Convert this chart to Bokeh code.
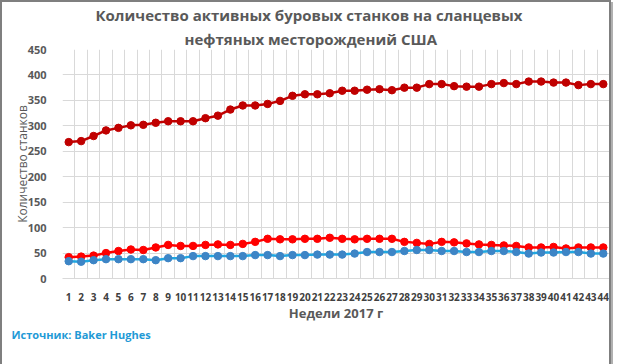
from bokeh.plotting import figure
from bokeh.models import (FixedTicker, Range1d, Legend, LegendItem, Grid, Title)
from bokeh.embed import file_html
from bokeh.resources import INLINE

weeks = list(range(1, 45))
week_labels = [str(w) for w in weeks]
permian = [268, 270, 280, 291, 296, 301, 302, 306, 309, 309, 309, 315, 320, 332, 340, 340,
           343, 349, 359, 362, 362, 364, 369, 369, 371, 372, 370, 375, 375, 382, 382, 378,
           377, 377, 382, 384, 382, 387, 387, 385, 385, 380, 382, 382]
eagle_ford = [42, 43, 45, 50, 54, 57, 56, 61, 66, 64, 64, 66, 67, 66, 68, 72, 78, 77, 77, 78,
              78, 80, 78, 77, 78, 78, 78, 72, 70, 68, 72, 71, 69, 67, 66, 65, 64, 61, 61, 62,
              59, 61, 61, 61]
bakken = [34, 33, 36, 38, 38, 38, 38, 36, 40, 40, 44, 44, 44, 44, 44, 46, 46, 44, 46, 46, 47,
          47, 47, 49, 52, 52, 52, 54, 56, 56, 54, 54, 52, 52, 54, 54, 52, 49, 51, 51, 52, 52,
          49, 49]
y_ticks = [0, 50, 100, 150, 200, 250, 300, 350, 400, 450]
title_lines = ["Количество активных буровых станков на сланцевых",
               "нефтяных месторождений США"]
source_text = "Источник: Baker Hughes"

FONT = "Open Sans"
GREY = "#595959"

p = figure(output_backend="svg", toolbar_location=None,
           x_range=Range1d(0.5, 44.5), y_range=Range1d(0, 450),
           frame_width=547, frame_height=229,
           min_border_left=60, min_border_right=0, min_border_top=45, min_border_bottom=0)
p.styles = {"border": "2px solid #7f7f7f", "box-shadow": "2px 2px 0 #b0b0b0"}
p.outline_line_color = None
p.background_fill_color = "white"
p.border_fill_color = "white"

# title: two lines, centred on the whole chart (added titles sit closer to the frame)
p.title = Title(text=title_lines[0], align="left", offset=33, standoff=1,
                text_font=FONT, text_font_size="15px", text_font_style="bold", text_color=GREY)
p.add_layout(Title(text=title_lines[1], align="left", offset=122, standoff=2,
                   text_font=FONT, text_font_size="15px", text_font_style="bold",
                   text_color=GREY), "above")

# grids
p.xgrid.visible = False
p.ygrid.ticker = FixedTicker(ticks=y_ticks)
p.ygrid.grid_line_color = "#d9d9d9"
vgrid = Grid(dimension=0, ticker=FixedTicker(ticks=[w + 0.5 for w in range(0, 45)]),
             grid_line_color="#d9d9d9")
p.add_layout(vgrid)

# axes
p.xaxis.ticker = FixedTicker(ticks=weeks)
p.xaxis.major_label_overrides = {w: l for w, l in zip(weeks, week_labels)}
p.xaxis.major_label_text_font = FONT
p.xaxis.major_label_text_font_size = "10px"
p.xaxis.major_label_text_font_style = "bold"
p.xaxis.major_label_text_color = "#404040"
p.xaxis.major_tick_line_color = None
p.xaxis.minor_tick_line_color = None
p.xaxis.axis_line_color = "#d9d9d9"
p.xaxis.major_label_standoff = 8
p.xaxis.axis_label = "Недели 2017 г"
p.xaxis.axis_label_text_font = FONT
p.xaxis.axis_label_text_font_size = "13px"
p.xaxis.axis_label_text_font_style = "bold"
p.xaxis.axis_label_text_color = GREY
p.xaxis.axis_label_standoff = 0

p.yaxis.ticker = FixedTicker(ticks=y_ticks)
p.yaxis.major_label_text_font = FONT
p.yaxis.major_label_text_font_size = "11px"
p.yaxis.major_label_text_font_style = "bold"
p.yaxis.major_label_text_color = GREY
p.yaxis.major_tick_line_color = None
p.yaxis.minor_tick_line_color = None
p.yaxis.axis_line_color = None
p.yaxis.major_label_standoff = 10
p.yaxis.axis_label = "Количество станков"
p.yaxis.axis_label_text_font = FONT
p.yaxis.axis_label_text_font_size = "12px"
p.yaxis.axis_label_text_font_style = "normal"
p.yaxis.axis_label_text_color = GREY
p.yaxis.axis_label_standoff = -6

series = [
    ("Permian", permian, "#c00000", "#c00000"),
    ("Eagle Ford", eagle_ford, "#ff0000", "#ff0000"),
    ("Bakken", bakken, "#1fa7e1", "#3d85c6"),
]
items = []
for name, vals, lc, mc in series:
    l = p.line(weeks, vals, line_color=lc, line_width=2.5)
    s = p.scatter(weeks, vals, size=7.5, fill_color=mc, line_color=mc)
    items.append(LegendItem(label=name, renderers=[l, s]))

p.add_layout(Title(text=source_text, align="left", offset=-51, standoff=0,
                   text_font=FONT, text_font_size="11px", text_font_style="bold",
                   text_color="#1f9ad6", text_line_height=1.0), "below")

legend = Legend(items=items, orientation="horizontal", location="top_center",
                label_text_font=FONT, label_text_font_size="13px", label_text_color=GREY,
                border_line_color=None, background_fill_alpha=0, glyph_width=26,
                glyph_height=12, spacing=10, padding=0, margin=0, label_standoff=2,
                label_height=12, label_text_line_height=1.0)
p.add_layout(legend, "below")

open("out.html", "w").write(file_html(p, INLINE))
